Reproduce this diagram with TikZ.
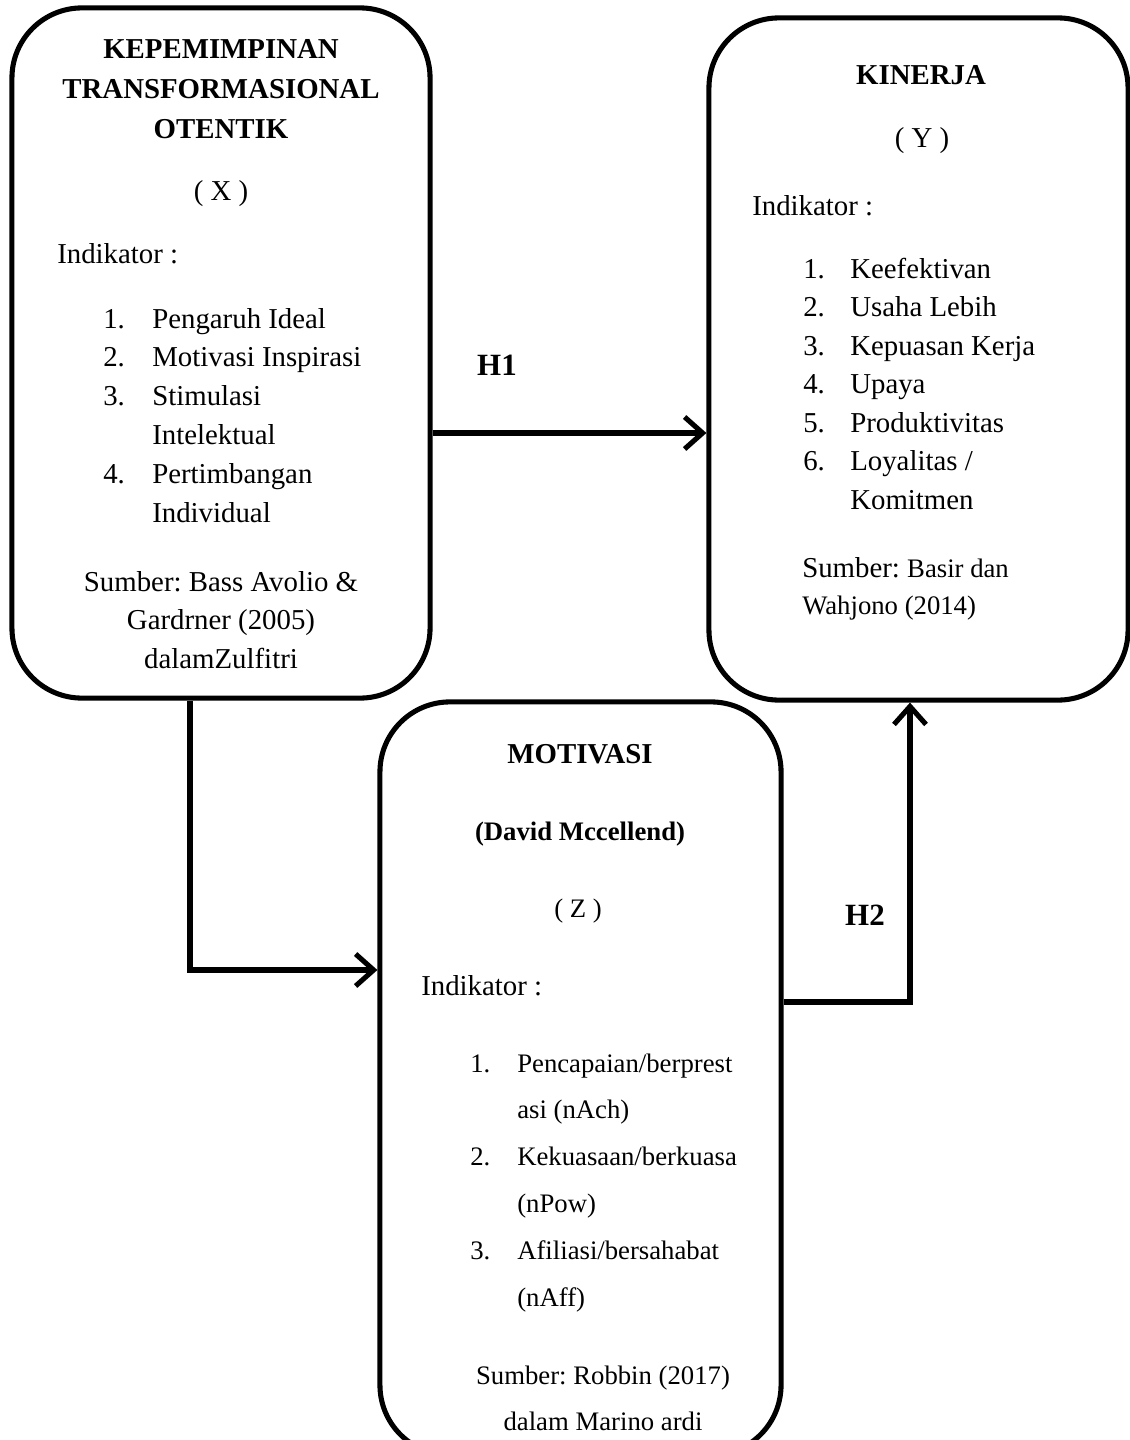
\documentclass[tikz,border=0pt]{standalone}
\usepackage{fontspec}
\setmainfont{Liberation Serif}
\usepackage{tikz}
\usetikzlibrary{arrows.meta}
\frenchspacing

\tikzset{
  varbox/.style={draw, line width=3.6pt, rounded corners=1.75cm, inner sep=0pt},
  link/.style={line width=3.6pt, -{Straight Barb[length=0.45cm, width=0.8cm]}},
  body/.style={inner sep=0pt, font=\fontsize{20.5}{27.7}\selectfont},
  smalltxt/.style={inner sep=0pt, font=\fontsize{19}{33.4}\selectfont},
  head/.style={inner sep=0pt, font=\bfseries\fontsize{20.5}{28.45}\selectfont},
  hlabel/.style={inner sep=0pt, anchor=base, font=\bfseries\fontsize{22}{26}\selectfont}
}

\begin{document}
\begin{tikzpicture}[x=0.025cm, y=0.025cm]
  \useasboundingbox (0,0) rectangle (1130,-1440);

  % Define nodes
  \node[varbox, minimum width=10.45cm, minimum height=17.25cm] (kepemimpinan) at (221,-353) {};
  \node[varbox, minimum width=10.475cm, minimum height=17.05cm] (kinerja) at (918.5,-359) {};
  \node[varbox, minimum width=10.025cm, minimum height=18.825cm] (motivasi) at (580.5,-1078.5) {};

  % Box X
  \node[head, anchor=base] (titleX) at (221,-58) {\begin{tabular}[t]{@{}c@{}}KEPEMIMPINAN\\TRANSFORMASIONAL\\OTENTIK\end{tabular}};
  \node[body, anchor=base] (varX) at (221,-200) {( X )};
  \node[body, anchor=base west] (indX) at (57,-263) {Indikator :};
  \node[body, anchor=base west] (listX) at (103,-328) {\begin{tabular}[t]{@{}p{1.225cm}@{}l@{}}
    1.&Pengaruh Ideal\\2.&Motivasi Inspirasi\\3.&Stimulasi\\&Intelektual\\4.&Pertimbangan\\&Individual\end{tabular}};
  \node[body, anchor=base, font=\fontsize{20.5}{27.4}\selectfont] (srcX) at (221,-591) {\begin{tabular}[t]{@{}c@{}}
    Sumber: Bass Avolio \&\\Gardrner (2005)\\dalamZulfitri\end{tabular}};

  % Box Y
  \node[head, anchor=base] (titleY) at (921,-84) {KINERJA};
  \node[body, anchor=base] (varY) at (922,-147) {( Y )};
  \node[body, anchor=base west] (indY) at (752,-215) {Indikator :};
  \node[body, anchor=base west, font=\fontsize{20.5}{27.4}\selectfont] (listY) at (803,-278) {\begin{tabular}[t]{@{}p{1.175cm}@{}l@{}}
    1.&Keefektivan\\2.&Usaha Lebih\\3.&Kepuasan Kerja\\4.&Upaya\\5.&Produktivitas\\6.&Loyalitas /\\&Komitmen\end{tabular}};
  \node[body, anchor=base west, font=\fontsize{20.5}{27}\selectfont] (srcY) at (802,-577) {\begin{tabular}[t]{@{}l@{}}
    Sumber: {\fontsize{19}{27}\selectfont Basir dan}\\{\fontsize{19}{27}\selectfont Wahjono (2014)}\end{tabular}};

  % Box Z
  \node[head, anchor=base] (titleZ) at (580,-763) {MOTIVASI};
  \node[head, anchor=base, font=\bfseries\fontsize{19}{23}\selectfont] (authorZ) at (580,-840) {(David Mccellend)};
  \node[smalltxt, anchor=base] (varZ) at (578,-917) {( Z )};
  \node[body, anchor=base west] (indZ) at (421,-995) {Indikator :};
  \node[smalltxt, anchor=base west] (listZ) at (470,-1072) {\begin{tabular}[t]{@{}p{1.175cm}@{}l@{}}
    1.&Pencapaian/berprest\\&asi (nAch)\\2.&Kekuasaan/berkuasa\\&(nPow)\\3.&Afiliasi/bersahabat\\&(nAff)\end{tabular}};
  \node[smalltxt, anchor=base] (srcZ) at (603,-1384) {\begin{tabular}[t]{@{}c@{}}
    Sumber: Robbin (2017)\\dalam Marino ardi\end{tabular}};

  \node[hlabel] (h1) at (497,-375) {H1};
  \node[hlabel] (h2) at (865,-925) {H2};

  % Connect the nodes
  \coordinate (xy) at (0,-433);
  \coordinate (xz) at (190,-970);
  \coordinate (zy) at (910,-1002);
  \draw[link] (kepemimpinan.east |- xy) -- (kinerja.west |- xy);
  \draw[link] (kepemimpinan.south -| xz) |- (motivasi.west |- xz);
  \draw[link] (motivasi.east |- zy) -| (kinerja.south -| zy);
\end{tikzpicture}
\end{document}
